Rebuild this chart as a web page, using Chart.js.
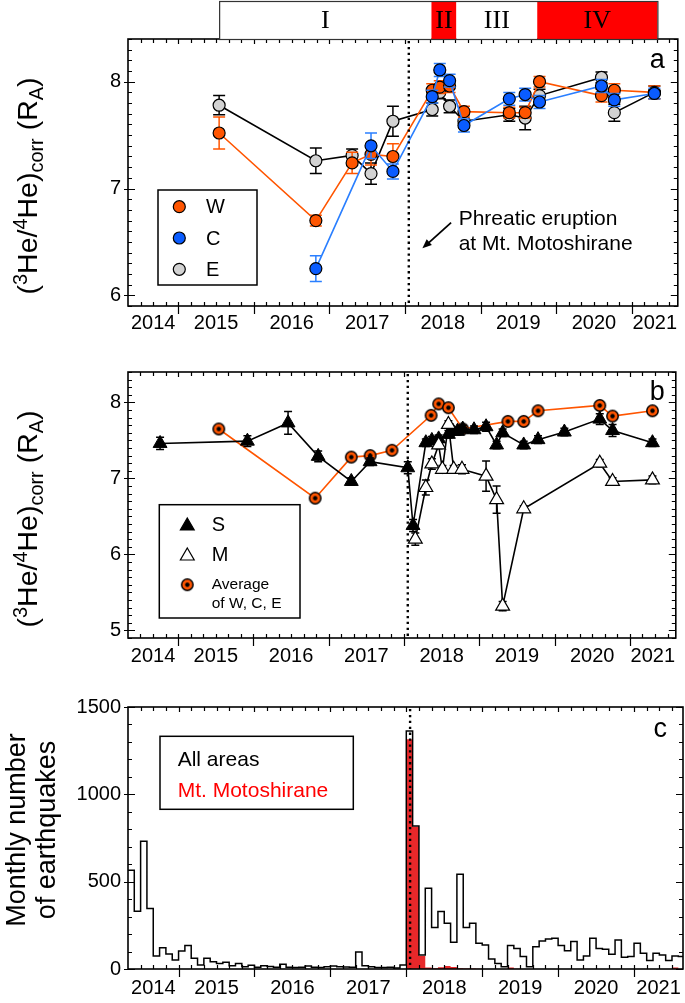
<!DOCTYPE html>
<html>
<head>
<meta charset="utf-8">
<title>Helium isotope ratios and earthquakes</title>
<script src="https://cdn.jsdelivr.net/npm/chart.js@4.4.1/dist/chart.umd.min.js"></script>
<style>
  body { margin: 0; background: #fff; }
  #page { position: relative; width: 685px; height: 1003px; overflow: hidden; background: #fff; }
  canvas { position: absolute; left: 0; }
</style>
</head>
<body>
<div id="page">
  <canvas id="chartA" width="685" height="330" style="top:0"></canvas>
  <canvas id="chartB" width="685" height="335" style="top:330px"></canvas>
  <canvas id="chartC" width="685" height="338" style="top:665px"></canvas>
</div>
<script>
const FONT = '"Liberation Sans", Arial, sans-serif'
const SERIF = '"Liberation Serif", "DejaVu Serif", serif'

// time axis, decimal years
const xMin = 2014.334
const xMaxAB = 2021.61
const xMaxC = 2021.645
const eruptionDate = 2018.05
const yearLabels = ['2014', '2015', '2016', '2017', '2018', '2019', '2020', '2021']

// activity periods shown above panel a
const periodNames = ['I', 'II', 'III', 'IV']
const periodEdges = [2015.54, 2018.35, 2018.68, 2019.75, 2021.34]
const periodColors = ['#ffffff', '#ff0000', '#ffffff', '#ff0000']

// panel a : 3He/4He of W, C, E
const yTicksA = [6, 7, 8]
const dateW = [2015.54, 2016.82, 2017.30, 2017.55, 2017.84, 2018.36, 2018.46, 2018.59, 2018.78, 2019.38, 2019.59, 2019.78, 2020.60, 2020.77, 2021.30]
const valW = [7.52, 6.70, 7.24, 7.32, 7.30, 7.92, 7.95, 7.96, 7.72, 7.71, 7.71, 8.00, 7.87, 7.92, 7.90]
const errW = [0.15, 0.05, 0.10, 0.10, 0.12, 0.06, 0.06, 0.06, 0.05, 0.05, 0.05, 0.05, 0.06, 0.06, 0.06]
const dateC = [2016.82, 2017.55, 2017.84, 2018.36, 2018.46, 2018.59, 2018.78, 2019.38, 2019.59, 2019.78, 2020.60, 2020.77, 2021.30]
const valC = [6.25, 7.40, 7.16, 7.86, 8.11, 8.01, 7.59, 7.84, 7.88, 7.81, 7.96, 7.83, 7.89]
const errC = [0.12, 0.12, 0.07, 0.06, 0.06, 0.06, 0.06, 0.06, 0.06, 0.06, 0.06, 0.06, 0.05]
const dateE = [2015.54, 2016.82, 2017.30, 2017.55, 2017.84, 2018.36, 2018.46, 2018.59, 2018.78, 2019.38, 2019.59, 2019.78, 2020.60, 2020.77, 2021.30]
const valE = [7.78, 7.26, 7.31, 7.14, 7.63, 7.74, 7.90, 7.77, 7.63, 7.69, 7.66, 7.87, 8.04, 7.71, 7.90]
const errE = [0.09, 0.12, 0.06, 0.10, 0.14, 0.06, 0.06, 0.06, 0.06, 0.06, 0.11, 0.06, 0.05, 0.08, 0.06]

// panel b : S, M and average of W, C, E
const yTicksB = [5, 6, 7, 8]
const dateS = [2014.76, 2015.92, 2016.46, 2016.86, 2017.30, 2017.55, 2018.05, 2018.12, 2018.29, 2018.37, 2018.46, 2018.59, 2018.65, 2018.71, 2018.78, 2018.93, 2019.09, 2019.23, 2019.31, 2019.59, 2019.78, 2020.13, 2020.60, 2020.77, 2021.30]
const valS = [7.46, 7.49, 7.73, 7.29, 6.96, 7.22, 7.14, 6.38, 7.47, 7.50, 7.52, 7.58, 7.62, 7.62, 7.65, 7.64, 7.68, 7.44, 7.60, 7.44, 7.51, 7.61, 7.78, 7.63, 7.47]
const errS = [0.08, 0.07, 0.15, 0.07, 0.05, 0.05, 0.08, 0.08, 0.05, 0.05, 0.05, 0.05, 0.05, 0.05, 0.05, 0.05, 0.06, 0.05, 0.05, 0.05, 0.05, 0.05, 0.07, 0.08, 0.05]
const dateM = [2018.15, 2018.29, 2018.37, 2018.46, 2018.51, 2018.59, 2018.66, 2018.77, 2019.09, 2019.23, 2019.31, 2019.59, 2020.60, 2020.77, 2021.30]
const valM = [6.20, 6.88, 7.19, 7.44, 7.12, 7.71, 7.12, 7.12, 7.03, 6.72, 5.32, 6.60, 7.20, 6.96, 6.98]
const errM = [0.08, 0.10, 0.07, 0.05, 0.05, 0.05, 0.05, 0.06, 0.20, 0.18, 0.06, 0.04, 0.05, 0.05, 0.05]
const dateAvg = [2015.54, 2016.82, 2017.30, 2017.55, 2017.84, 2018.36, 2018.46, 2018.59, 2018.78, 2019.38, 2019.59, 2019.78, 2020.60, 2020.77, 2021.30]
const valAvg = [7.65, 6.74, 7.28, 7.30, 7.37, 7.83, 7.98, 7.93, 7.65, 7.75, 7.75, 7.89, 7.96, 7.82, 7.89]

// panel c : monthly number of earthquakes, from May 2014
const yTicksC = [0, 500, 1000, 1500]
const quakeStart = 2014 + 4 / 12
const quakesAll = [
  565, 330, 732, 346, 75, 122, 86, 52,                 // 2014 May-Dec
  103, 134, 61, 23, 61, 42, 32, 38, 19, 31, 13, 21,    // 2015
  10, 19, 15, 10, 27, 10, 8, 10, 17, 10, 8, 13,        // 2016
  17, 13, 11, 10, 97, 19, 13, 8, 8, 10, 6, 23,         // 2017
  1362, 818, 80, 462, 237, 329, 262, 153, 543, 237, 262, 147, // 2018
  138, 57, 32, 13, 134, 118, 71, 13, 128, 161, 172, 176,      // 2019
  134, 105, 157, 52, 75, 176, 118, 113, 84, 166, 67, 71,      // 2020
  147, 90, 48, 90, 80, 48, 75, 71                              // 2021 Jan-Aug
]
const quakesMoto = [
  0, 0, 0, 0, 0, 0, 0, 0,
  0, 0, 0, 0, 0, 0, 0, 0, 0, 0, 0, 0,
  0, 0, 0, 0, 0, 0, 0, 0, 0, 0, 0, 0,
  0, 0, 0, 0, 0, 0, 0, 0, 0, 0, 0, 0,
  1315, 815, 75, 8, 5, 10, 17, 12, 5, 3, 3, 2,
  0, 0, 0, 0, 8, 2, 0, 0, 0, 0, 0, 0,
  0, 0, 0, 0, 0, 0, 0, 0, 0, 0, 0, 0,
  0, 0, 0, 0, 0, 0, 8, 0
]

const colW = '#ff5500'
const colC = '#0a5cff'
const lineC = '#2a7fff'
const colE = '#d2d2d2'
const colAvg = '#ff5500'
const colRed = '#e8282a'

function series(dates, vals) {
  return dates.map((d, i) => ({ x: d, y: vals[i] }))
}

function monthly(vals) {
  const pts = vals.map((v, i) => ({ x: quakeStart + i / 12, y: v }))
  pts.push({ x: quakeStart + vals.length / 12, y: 0 })
  return pts
}

// marker for the average series: orange disc with black dot
function avgMarker() {
  const c = document.createElement('canvas')
  c.width = 15; c.height = 15
  const g = c.getContext('2d')
  g.beginPath(); g.arc(7.5, 7.5, 5.7, 0, Math.PI * 2)
  g.fillStyle = colAvg; g.fill()
  g.lineWidth = 1.5; g.strokeStyle = '#000'; g.stroke()
  g.beginPath(); g.arc(7.5, 7.5, 2.2, 0, Math.PI * 2)
  g.fillStyle = '#000'; g.fill()
  return c
}
const avgImg = avgMarker()

function yearTicks(scale) {
  scale.ticks = yearLabels.map(label => {
    const y = +label
    const lo = Math.max(y, scale.min), hi = Math.min(y + 1, scale.max)
    return { value: (lo + hi) / 2 }
  })
}

function xScale(max, height, pad) {
  return {
    type: 'linear', min: xMin, max: max,
    grid: { display: false, drawTicks: false }, border: { display: false },
    afterBuildTicks: yearTicks,
    ticks: { callback: (v, i) => yearLabels[i], font: { family: FONT, size: 20 }, color: '#000', padding: pad, maxRotation: 0, autoSkip: false },
    afterFit: s => { s.height = height; s.paddingLeft = 0; s.paddingRight = 0 }
  }
}

function yScale(min, max, ticks) {
  return {
    min: min, max: max,
    grid: { display: false, drawTicks: false }, border: { display: false },
    afterBuildTicks: s => { s.ticks = ticks.map(v => ({ value: v })) },
    ticks: { callback: v => String(v), font: { family: FONT, size: 20 }, color: '#000', padding: 7 },
    afterFit: s => { s.width = 128; s.paddingTop = 0; s.paddingBottom = 0 }
  }
}

// error bars, drawn just before each dataset
const errorBars = {
  id: 'errorBars',
  beforeDatasetDraw(chart, args) {
    const ds = chart.data.datasets[args.index]
    if (!ds.errors) return
    const { ctx, scales: { x, y } } = chart
    const cap = ds.capWidth || 6
    ctx.save()
    ctx.strokeStyle = ds.borderColor
    ctx.lineWidth = 1.5
    ctx.beginPath()
    ds.data.forEach((p, i) => {
      const e = ds.errors[i]
      const px = x.getPixelForValue(p.x)
      const top = y.getPixelForValue(p.y + e), bot = y.getPixelForValue(p.y - e)
      ctx.moveTo(px, top); ctx.lineTo(px, bot)
      ctx.moveTo(px - cap, top); ctx.lineTo(px + cap, top)
      ctx.moveTo(px - cap, bot); ctx.lineTo(px + cap, bot)
    })
    ctx.stroke()
    ctx.restore()
  }
}

function drawFrame(chart, yMinor, yMajor) {
  const { ctx, chartArea: a, scales: { x, y } } = chart
  ctx.save()
  ctx.strokeStyle = '#000'
  ctx.lineWidth = 1.6
  ctx.strokeRect(a.left, a.top, a.right - a.left, a.bottom - a.top)
  ctx.lineWidth = 1.2
  ctx.beginPath()
  for (let m = Math.ceil(x.min * 6); m <= Math.floor(x.max * 6); m++) {
    const px = Math.round(x.getPixelForValue(m / 6)) + 0.5
    const major = m % 6 === 0
    ctx.moveTo(px, a.bottom + (major ? 8 : 0)); ctx.lineTo(px, a.bottom - 4)
    ctx.moveTo(px, a.top); ctx.lineTo(px, a.top + (major ? 5 : 4))
  }
  const n0 = Math.ceil(y.min / yMinor - 1e-6), n1 = Math.floor(y.max / yMinor + 1e-6)
  for (let k = n0; k <= n1; k++) {
    const v = k * yMinor
    const py = Math.round(y.getPixelForValue(v)) + 0.5
    const major = Math.abs(v / yMajor - Math.round(v / yMajor)) < 1e-6
    ctx.moveTo(a.left - (major ? 4 : 0), py); ctx.lineTo(a.left + (major ? 7 : 4), py)
    ctx.moveTo(a.right, py); ctx.lineTo(a.right - (major ? 7 : 4), py)
  }
  ctx.stroke()
  ctx.restore()
}

function drawEruption(chart) {
  const { ctx, chartArea: a, scales: { x } } = chart
  const px = x.getPixelForValue(eruptionDate)
  ctx.save()
  ctx.strokeStyle = '#000'
  ctx.lineWidth = 2.4
  ctx.setLineDash([2.3, 3.6])
  ctx.beginPath(); ctx.moveTo(px, a.top + 2); ctx.lineTo(px, a.bottom)
  ctx.stroke()
  ctx.restore()
}

// (3He/4He)corr (RA) with super- and subscripts, rotated
function drawRatioTitle(ctx, cx, cy, size) {
  const parts = [['(', 0], ['3', 1], ['He/', 0], ['4', 1], ['He)', 0], ['corr', -1], [' (R', 0], ['A', -1], [')', 0]]
  const fontFor = t => (t === 0 ? size : size * 0.7) + 'px ' + FONT
  ctx.save()
  ctx.translate(cx, cy)
  ctx.rotate(-Math.PI / 2)
  let total = 0
  parts.forEach(([s, t]) => { ctx.font = fontFor(t); total += ctx.measureText(s).width })
  let pos = -total / 2
  ctx.fillStyle = '#000'
  ctx.textBaseline = 'alphabetic'
  ctx.textAlign = 'left'
  parts.forEach(([s, t]) => {
    ctx.font = fontFor(t)
    const dy = t === 1 ? -size * 0.36 : t === -1 ? size * 0.2 : 0
    ctx.fillText(s, pos, size * 0.36 + dy)
    pos += ctx.measureText(s).width
  })
  ctx.restore()
}

function drawPanelLetter(chart, letter, dx, dy) {
  const { ctx, chartArea: a } = chart
  ctx.save()
  ctx.font = '27px ' + FONT
  ctx.fillStyle = '#000'
  ctx.textAlign = 'right'
  ctx.textBaseline = 'alphabetic'
  ctx.fillText(letter, a.right - dx, a.top + dy)
  ctx.restore()
}

function drawCircle(ctx, x, y, r, fill) {
  ctx.beginPath(); ctx.arc(x, y, r, 0, Math.PI * 2)
  ctx.fillStyle = fill; ctx.fill()
  ctx.lineWidth = 1.2; ctx.strokeStyle = '#000'; ctx.stroke()
}

function drawTriangle(ctx, x, y, r, fill) {
  const w = r * Math.sin(Math.PI / 3), h = r / 2
  ctx.beginPath()
  ctx.moveTo(x, y - r); ctx.lineTo(x + w, y + h); ctx.lineTo(x - w, y + h); ctx.closePath()
  ctx.fillStyle = fill; ctx.fill()
  ctx.lineWidth = 1.2; ctx.strokeStyle = '#000'; ctx.stroke()
}

function periodBar(chart) {
  const { ctx, chartArea, scales: { x } } = chart
  const top = 1, bottom = chartArea.top
  ctx.save()
  periodNames.forEach((name, i) => {
    const x0 = x.getPixelForValue(periodEdges[i]), x1 = x.getPixelForValue(periodEdges[i + 1])
    ctx.fillStyle = periodColors[i]
    ctx.fillRect(x0, top, x1 - x0, bottom - top)
    ctx.fillStyle = '#000'
    ctx.font = '26px ' + SERIF
    ctx.textAlign = 'center'
    ctx.textBaseline = 'middle'
    ctx.fillText(name, (x0 + x1) / 2, (top + bottom) / 2 + 1)
  })
  const xa = x.getPixelForValue(periodEdges[0]), xb = x.getPixelForValue(periodEdges[periodEdges.length - 1])
  ctx.strokeStyle = '#333'
  ctx.lineWidth = 1.2
  ctx.strokeRect(xa + 0.5, top + 0.5, xb - xa, bottom - top)
  ctx.restore()
}

const common = {
  responsive: false,
  animation: false,
  events: [],
  plugins: { legend: { display: false }, tooltip: { enabled: false } },
  elements: { line: { tension: 0 } }
}

// ---------- panel a ----------
new Chart(document.getElementById('chartA'), {
  type: 'line',
  data: {
    datasets: [
      { label: 'W', data: series(dateW, valW), errors: errW, capWidth: 6, order: 1,
        borderColor: colW, borderWidth: 1.6, pointRadius: 6, pointBackgroundColor: colW, pointBorderColor: '#000', pointBorderWidth: 1.2 },
      { label: 'C', data: series(dateC, valC), errors: errC, capWidth: 6, order: 0,
        borderColor: lineC, borderWidth: 1.6, pointRadius: 6, pointBackgroundColor: colC, pointBorderColor: '#000', pointBorderWidth: 1.2 },
      { label: 'E', data: series(dateE, valE), errors: errE, capWidth: 6, order: 2,
        borderColor: '#000', borderWidth: 1.6, pointRadius: 6, pointBackgroundColor: colE, pointBorderColor: '#000', pointBorderWidth: 1.2 }
    ]
  },
  options: Object.assign({}, common, {
    layout: { padding: { top: 39, right: 5, left: 0, bottom: 0 } },
    scales: { x: xScale(xMaxAB, 24, 5), y: yScale(5.9, 8.4, yTicksA) }
  }),
  plugins: [errorBars, {
    id: 'panelA',
    afterDatasetsDraw(chart) { drawEruption(chart) },
    afterDraw(chart) {
      const { ctx, chartArea: a, scales: { x, y } } = chart
      drawFrame(chart, 0.1, 1)
      periodBar(chart)
      drawPanelLetter(chart, 'a', 13, 29)
      drawRatioTitle(ctx, 27, 186, 28.5)
      // legend
      ctx.save()
      ctx.lineWidth = 1.5; ctx.strokeStyle = '#000'
      ctx.strokeRect(a.left + 30, a.top + 151, 99, 95)
      const rows = [['W', colW], ['C', colC], ['E', colE]]
      rows.forEach(([name, col], i) => {
        const ry = a.top + 167.7 + i * 31.3
        drawCircle(ctx, a.left + 51.3, ry, 6, col)
        ctx.fillStyle = '#000'; ctx.font = '20px ' + FONT
        ctx.textAlign = 'left'; ctx.textBaseline = 'middle'
        ctx.fillText(name, a.left + 78, ry + 1)
      })
      // eruption note and arrow
      ctx.font = '21px ' + FONT
      ctx.textBaseline = 'middle'
      ctx.fillText('Phreatic eruption', x.getPixelForValue(2018.71), y.getPixelForValue(6.71))
      ctx.fillText('at Mt. Motoshirane', x.getPixelForValue(2018.71), y.getPixelForValue(6.475))
      const x0 = x.getPixelForValue(2018.61), y0 = y.getPixelForValue(6.68)
      const x1 = x.getPixelForValue(2018.23), y1 = y.getPixelForValue(6.44)
      ctx.lineWidth = 1.8
      ctx.beginPath(); ctx.moveTo(x0, y0); ctx.lineTo(x1 + 4, y1 - 3.4); ctx.stroke()
      const ang = Math.atan2(y1 - y0, x1 - x0)
      ctx.beginPath()
      ctx.moveTo(x1, y1)
      ctx.lineTo(x1 - 10 * Math.cos(ang - 0.4), y1 - 10 * Math.sin(ang - 0.4))
      ctx.lineTo(x1 - 10 * Math.cos(ang + 0.4), y1 - 10 * Math.sin(ang + 0.4))
      ctx.closePath(); ctx.fillStyle = '#000'; ctx.fill()
      ctx.restore()
    }
  }]
})

// ---------- panel b ----------
new Chart(document.getElementById('chartB'), {
  type: 'line',
  data: {
    datasets: [
      { label: 'S', data: series(dateS, valS), errors: errS, capWidth: 4, order: 1,
        borderColor: '#000', borderWidth: 1.6, pointStyle: 'triangle', pointRadius: 8, pointBackgroundColor: '#000', pointBorderColor: '#000', pointBorderWidth: 1 },
      { label: 'M', data: series(dateM, valM), errors: errM, capWidth: 4, order: 0,
        borderColor: '#000', borderWidth: 1.6, pointStyle: 'triangle', pointRadius: 8, pointBackgroundColor: '#fff', pointBorderColor: '#000', pointBorderWidth: 1.2 },
      { label: 'Average of W, C, E', data: series(dateAvg, valAvg), order: 2,
        borderColor: colAvg, borderWidth: 1.6, pointStyle: avgImg }
    ]
  },
  options: Object.assign({}, common, {
    layout: { padding: { top: 42, right: 5, left: 0, bottom: 0 } },
    scales: { x: xScale(xMaxAB, 27, 6), y: yScale(4.9, 8.4, yTicksB) }
  }),
  plugins: [errorBars, {
    id: 'panelB',
    afterDatasetsDraw(chart) { drawEruption(chart) },
    afterDraw(chart) {
      const { ctx, chartArea: a } = chart
      drawFrame(chart, 0.1, 1)
      drawPanelLetter(chart, 'b', 11, 28)
      drawRatioTitle(ctx, 27, 189, 28.5)
      ctx.save()
      ctx.lineWidth = 1.5; ctx.strokeStyle = '#000'
      ctx.strokeRect(a.left + 31.3, a.top + 132.7, 140.7, 113.3)
      const mx = a.left + 59.3, tx = a.left + 83.7
      drawTriangle(ctx, mx, a.top + 154, 8, '#000')
      drawTriangle(ctx, mx, a.top + 184, 8, '#fff')
      ctx.drawImage(avgImg, mx - 7.5, a.top + 212.7 - 7.5)
      ctx.fillStyle = '#000'; ctx.textAlign = 'left'; ctx.textBaseline = 'middle'
      ctx.font = '20px ' + FONT
      ctx.fillText('S', tx, a.top + 153)
      ctx.fillText('M', tx, a.top + 183)
      ctx.font = '15.5px ' + FONT
      ctx.fillText('Average', tx, a.top + 213)
      ctx.fillText('of W, C, E', tx, a.top + 232)
      ctx.restore()
    }
  }]
})

// ---------- panel c ----------
new Chart(document.getElementById('chartC'), {
  type: 'line',
  data: {
    datasets: [
      { label: 'All areas', data: monthly(quakesAll), order: 0, stepped: 'before',
        borderColor: '#000', borderWidth: 1.5, pointRadius: 0, fill: false },
      { label: 'Mt. Motoshirane', data: monthly(quakesMoto), order: 1, stepped: 'before',
        borderColor: colRed, borderWidth: 0, backgroundColor: colRed, pointRadius: 0, fill: 'origin' }
    ]
  },
  options: Object.assign({}, common, {
    layout: { padding: { top: 42, right: 2, left: 0, bottom: 0 } },
    scales: { x: xScale(xMaxC, 34, 7), y: yScale(0, 1500, yTicksC) }
  }),
  plugins: [{
    id: 'panelC',
    afterDatasetsDraw(chart) { drawEruption(chart) },
    afterDraw(chart) {
      const { ctx, chartArea: a } = chart
      drawFrame(chart, 100, 500)
      drawPanelLetter(chart, 'c', 16, 30)
      ctx.save()
      ctx.translate(33, 165)
      ctx.rotate(-Math.PI / 2)
      ctx.font = '27px ' + FONT
      ctx.fillStyle = '#000'; ctx.textAlign = 'center'; ctx.textBaseline = 'middle'
      ctx.fillText('Monthly number', 0, -15)
      ctx.fillText('of earthquakes', 0, 15)
      ctx.restore()
      ctx.save()
      ctx.lineWidth = 1.5; ctx.strokeStyle = '#000'
      ctx.strokeRect(a.left + 32, a.top + 29.3, 193.3, 73)
      ctx.font = '21px ' + FONT; ctx.textAlign = 'left'; ctx.textBaseline = 'middle'
      ctx.fillStyle = '#000'
      ctx.fillText('All areas', a.left + 49.7, a.top + 53)
      ctx.fillStyle = '#ff0000'
      ctx.fillText('Mt. Motoshirane', a.left + 49.7, a.top + 84)
      ctx.restore()
    }
  }]
})
</script>
</body>
</html>
